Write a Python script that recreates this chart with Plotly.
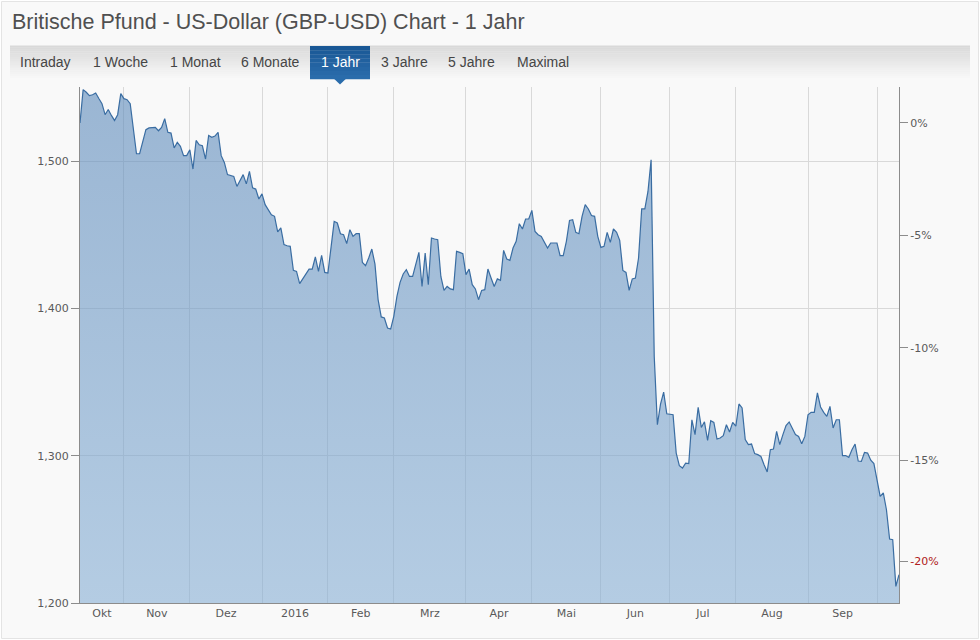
import pandas as pd
import plotly.graph_objects as go

# ---------------- data ----------------
START_DATE = "2015-10-13"
END_DATE = "2016-10-12"

GBPUSD = [
    1.5259, 1.5485, 1.5467, 1.5444, 1.5450, 1.5462, 1.5425, 1.5390, 1.5315, 1.5350,
    1.5310, 1.5276, 1.5315, 1.5458, 1.5424, 1.5417, 1.5390, 1.5230, 1.5050, 1.5050,
    1.5127, 1.5213, 1.5225, 1.5229, 1.5229, 1.5206, 1.5229, 1.5288, 1.5195, 1.5190,
    1.5089, 1.5127, 1.5100, 1.5037, 1.5037, 1.5077, 1.4946, 1.5140, 1.5111, 1.5104,
    1.5014, 1.5174, 1.5161, 1.5170, 1.5195, 1.5037, 1.4991, 1.4908, 1.4900, 1.4896,
    1.4828, 1.4870, 1.4908, 1.4845, 1.4930, 1.4818, 1.4810, 1.4743, 1.4777, 1.4704,
    1.4670, 1.4636, 1.4625, 1.4520, 1.4546, 1.4433, 1.4425, 1.4421, 1.4258, 1.4251,
    1.4168, 1.4200, 1.4235, 1.4267, 1.4267, 1.4349, 1.4251, 1.4360, 1.4244, 1.4240,
    1.4414, 1.4591, 1.4580, 1.4507, 1.4500, 1.4440, 1.4534, 1.4489, 1.4507, 1.4507,
    1.4312, 1.4290, 1.4342, 1.4403, 1.4300, 1.4060, 1.3942, 1.3935, 1.3867, 1.3860,
    1.3946, 1.4081, 1.4177, 1.4234, 1.4263, 1.4217, 1.4217, 1.4297, 1.4380, 1.4149,
    1.4375, 1.4161, 1.4478, 1.4471, 1.4466, 1.4217, 1.4122, 1.4149, 1.4132, 1.4127,
    1.4387, 1.4380, 1.4371, 1.4229, 1.4267, 1.4161, 1.4132, 1.4059, 1.4122, 1.4127,
    1.4267, 1.4206, 1.4149, 1.4200, 1.4190, 1.4394, 1.4335, 1.4326, 1.4410, 1.4455,
    1.4575, 1.4539, 1.4607, 1.4607, 1.4665, 1.4523, 1.4500, 1.4489, 1.4444, 1.4410,
    1.4444, 1.4444, 1.4444, 1.4358, 1.4358, 1.4455, 1.4597, 1.4602, 1.4516, 1.4507,
    1.4625, 1.4704, 1.4675, 1.4630, 1.4625, 1.4489, 1.4414, 1.4421, 1.4516, 1.4448,
    1.4539, 1.4516, 1.4462, 1.4258, 1.4244, 1.4122, 1.4200, 1.4206, 1.4342, 1.4675,
    1.4675, 1.4794, 1.5009, 1.3674, 1.3210, 1.3350, 1.3432, 1.3285, 1.3280, 1.3278,
    1.3018, 1.2932, 1.2916, 1.2950, 1.2946, 1.3244, 1.3143, 1.3328, 1.3192, 1.3230,
    1.3104, 1.3238, 1.3226, 1.3113, 1.3120, 1.3136, 1.3210, 1.3161, 1.3226, 1.3200,
    1.3351, 1.3324, 1.3109, 1.3075, 1.3079, 1.3014, 1.3007, 1.2995, 1.2939, 1.2890,
    1.3041, 1.3045, 1.3165, 1.3075, 1.3143, 1.3204, 1.3229, 1.3188, 1.3143, 1.3131,
    1.3081, 1.3131, 1.3278, 1.3294, 1.3294, 1.3426, 1.3331, 1.3294, 1.3267, 1.3335,
    1.3188, 1.3244, 1.3244, 1.3001, 1.3001, 1.2988, 1.3041, 1.3079, 1.2964, 1.2961,
    1.3022, 1.3018, 1.2970, 1.2946, 1.2826, 1.2724, 1.2747, 1.2633, 1.2434, 1.2430,
    1.2113, 1.2192,
]

MONTH_LABELS = ["Okt", "Nov", "Dez", "2016", "Feb", "Mrz", "Apr", "Mai",
                "Jun", "Jul", "Aug", "Sep"]
LEFT_TICKS = [1.2, 1.3, 1.4, 1.5]
# right axis: change vs. first value; the red mark is the current change (about -19.5 %)
PCT_TICKS = [0, -5, -10, -15, -19.5]
PCT_LABELS = ["0%", "-5%", "-10%", "-15%", "-20%"]
PCT_RED = [False, False, False, False, True]

TITLE = "Britische Pfund - US-Dollar (GBP-USD) Chart - 1 Jahr"
TABS = ["Intraday", "1 Woche", "1 Monat", "6 Monate", "1 Jahr", "3 Jahre", "5 Jahre", "Maximal"]
ACTIVE_TAB = "1 Jahr"

# ---------------- derived ----------------
dates = pd.bdate_range(START_DATE, END_DATE)
assert len(dates) == len(GBPUSD), (len(dates), len(GBPUSD))
base = GBPUSD[0]
pct = [(v / base - 1) * 100 for v in GBPUSD]

Y_MIN, Y_MAX = 1.2, 1.5503

starts = [i for i in range(1, len(dates)) if dates[i].month != dates[i - 1].month]
bounds = [0] + starts
grid_dates = [dates[i].strftime("%Y-%m-%d") for i in starts]
label_pos = []
for k in range(len(MONTH_LABELS)):
    m = (bounds[k] + bounds[k + 1]) / 2
    i0 = int(m)
    frac = m - i0
    label_pos.append((dates[i0] + pd.Timedelta(hours=24 * frac)).strftime("%Y-%m-%d %H:%M"))

pct_text = [f"<span style='color:#b02020'>{t}</span>" if r else t
            for t, r in zip(PCT_LABELS, PCT_RED)]

# ---------------- geometry helpers ----------------
W, H = 980, 640
ML, MR, MT, MB = 80, 81, 87, 37
PW, PH = W - ML - MR, H - MT - MB


def px(x):
    return (x - ML) / PW


def py(y):
    return (H - MB - y) / PH


def lerp_hex(c1, c2, t):
    a = [int(c1[i:i + 2], 16) for i in (1, 3, 5)]
    b = [int(c2[i:i + 2], 16) for i in (1, 3, 5)]
    return "#%02x%02x%02x" % tuple(round(a[j] + (b[j] - a[j]) * t) for j in range(3))


shapes = []
# page background + thin border
shapes.append(dict(type="rect", xref="paper", yref="paper",
                   x0=px(1.5), x1=px(978.5), y0=py(638.5), y1=py(1.5),
                   fillcolor="#f9f9f9", line=dict(color="#e4e4e4", width=1), layer="below"))
# tab bar gradient
N = 18
y_top, y_bot = 45.5, 80.0
for k in range(N):
    y0 = y_top + (y_bot - y_top) * k / N
    y1 = y_top + (y_bot - y_top) * (k + 1) / N
    shapes.append(dict(type="rect", xref="paper", yref="paper",
                       x0=px(10), x1=px(970), y0=py(y1 + 0.3), y1=py(y0),
                       fillcolor=lerp_hex("#d9d9d9", "#f9f9f9", k / (N - 1)),
                       line=dict(width=0), layer="below"))
# active tab
NB = 8
for k in range(NB):
    y0 = 46 + 33 * k / NB
    y1 = 46 + 33 * (k + 1) / NB
    shapes.append(dict(type="rect", xref="paper", yref="paper",
                       x0=px(310), x1=px(370), y0=py(y1 + 0.3), y1=py(y0),
                       fillcolor=lerp_hex("#1a5896", "#2a6cab", k / (NB - 1)),
                       line=dict(width=0), layer="below"))
shapes.append(dict(type="path", xref="paper", yref="paper",
                   path=f"M {px(334)},{py(78.8)} L {px(346)},{py(78.8)} L {px(340)},{py(84.5)} Z",
                   fillcolor="#2a6cab", line=dict(width=0), layer="below"))

annotations = [dict(text=TITLE, x=px(10), y=py(22), xref="paper", yref="paper",
                    xanchor="left", yanchor="middle", showarrow=False,
                    font=dict(family="Liberation Sans, Arial", size=21.5, color="#505050"))]
TAB_CENTERS = [45.5, 120.5, 195.7, 270, 340.3, 404, 471.8, 543]
for t, cx in zip(TABS, TAB_CENTERS):
    annotations.append(dict(text=t, x=px(cx), y=py(62), xref="paper", yref="paper",
                            xanchor="center", yanchor="middle", showarrow=False,
                            font=dict(family="Liberation Sans, Arial", size=14,
                                      color="#ffffff" if t == ACTIVE_TAB else "#454545")))

# ---------------- figure ----------------
fig = go.Figure()
fig.add_trace(go.Scatter(
    x=dates, y=GBPUSD, mode="lines",
    line=dict(color="#3a6da2", width=1.2),
    fill="tozeroy",
    fillgradient=dict(type="vertical",
                      colorscale=[[0, "rgba(134,174,212,0.6)"], [1, "rgba(91,137,186,0.6)"]],
                      start=Y_MIN, stop=Y_MAX),
    hoverinfo="skip", showlegend=False))
fig.add_trace(go.Scatter(
    x=dates, y=pct, yaxis="y2", mode="lines", line=dict(width=0),
    opacity=0, hoverinfo="skip", showlegend=False))

tick_font = dict(family="DejaVu Sans, Verdana", size=11, color="#5a5a5a")
axis_col = "#8c8c8c"
grid_col = "#d9d9d9"

fig.update_layout(
    width=W, height=H,
    margin=dict(l=ML, r=MR, t=MT, b=MB, pad=0),
    paper_bgcolor="#ffffff",
    plot_bgcolor="rgba(0,0,0,0)",
    separators=",.",
    showlegend=False,
    shapes=shapes,
    annotations=annotations,
    xaxis=dict(
        type="date",
        range=[dates[0], dates[-1]],
        rangebreaks=[dict(bounds=["sat", "mon"])],
        tickmode="array", tickvals=label_pos, ticktext=MONTH_LABELS,
        ticks="", showgrid=False, zeroline=False,
        showline=True, linecolor=axis_col, linewidth=1,
        tickfont=tick_font,
        minor=dict(tickmode="array", tickvals=grid_dates, showgrid=True,
                   gridcolor=grid_col, gridwidth=1, ticks=""),
        fixedrange=True,
    ),
    yaxis=dict(
        range=[Y_MIN, Y_MAX],
        tickmode="array", tickvals=LEFT_TICKS, tickformat=".3f",
        ticks="outside", ticklen=8, tickcolor=axis_col, tickwidth=1,
        showline=True, linecolor=axis_col, linewidth=1,
        showgrid=True, gridcolor=grid_col, gridwidth=1, zeroline=False,
        tickfont=tick_font, fixedrange=True,
    ),
    yaxis2=dict(
        overlaying="y", side="right",
        range=[(Y_MIN / base - 1) * 100, (Y_MAX / base - 1) * 100],
        tickmode="array", tickvals=PCT_TICKS, ticktext=pct_text,
        ticks="outside", ticklen=8, tickcolor=axis_col, tickwidth=1,
        showline=True, linecolor=axis_col, linewidth=1,
        showgrid=False, zeroline=False,
        tickfont=tick_font, fixedrange=True,
    ),
)

fig.write_html("out.html", config={"displayModeBar": False, "staticPlot": False})
